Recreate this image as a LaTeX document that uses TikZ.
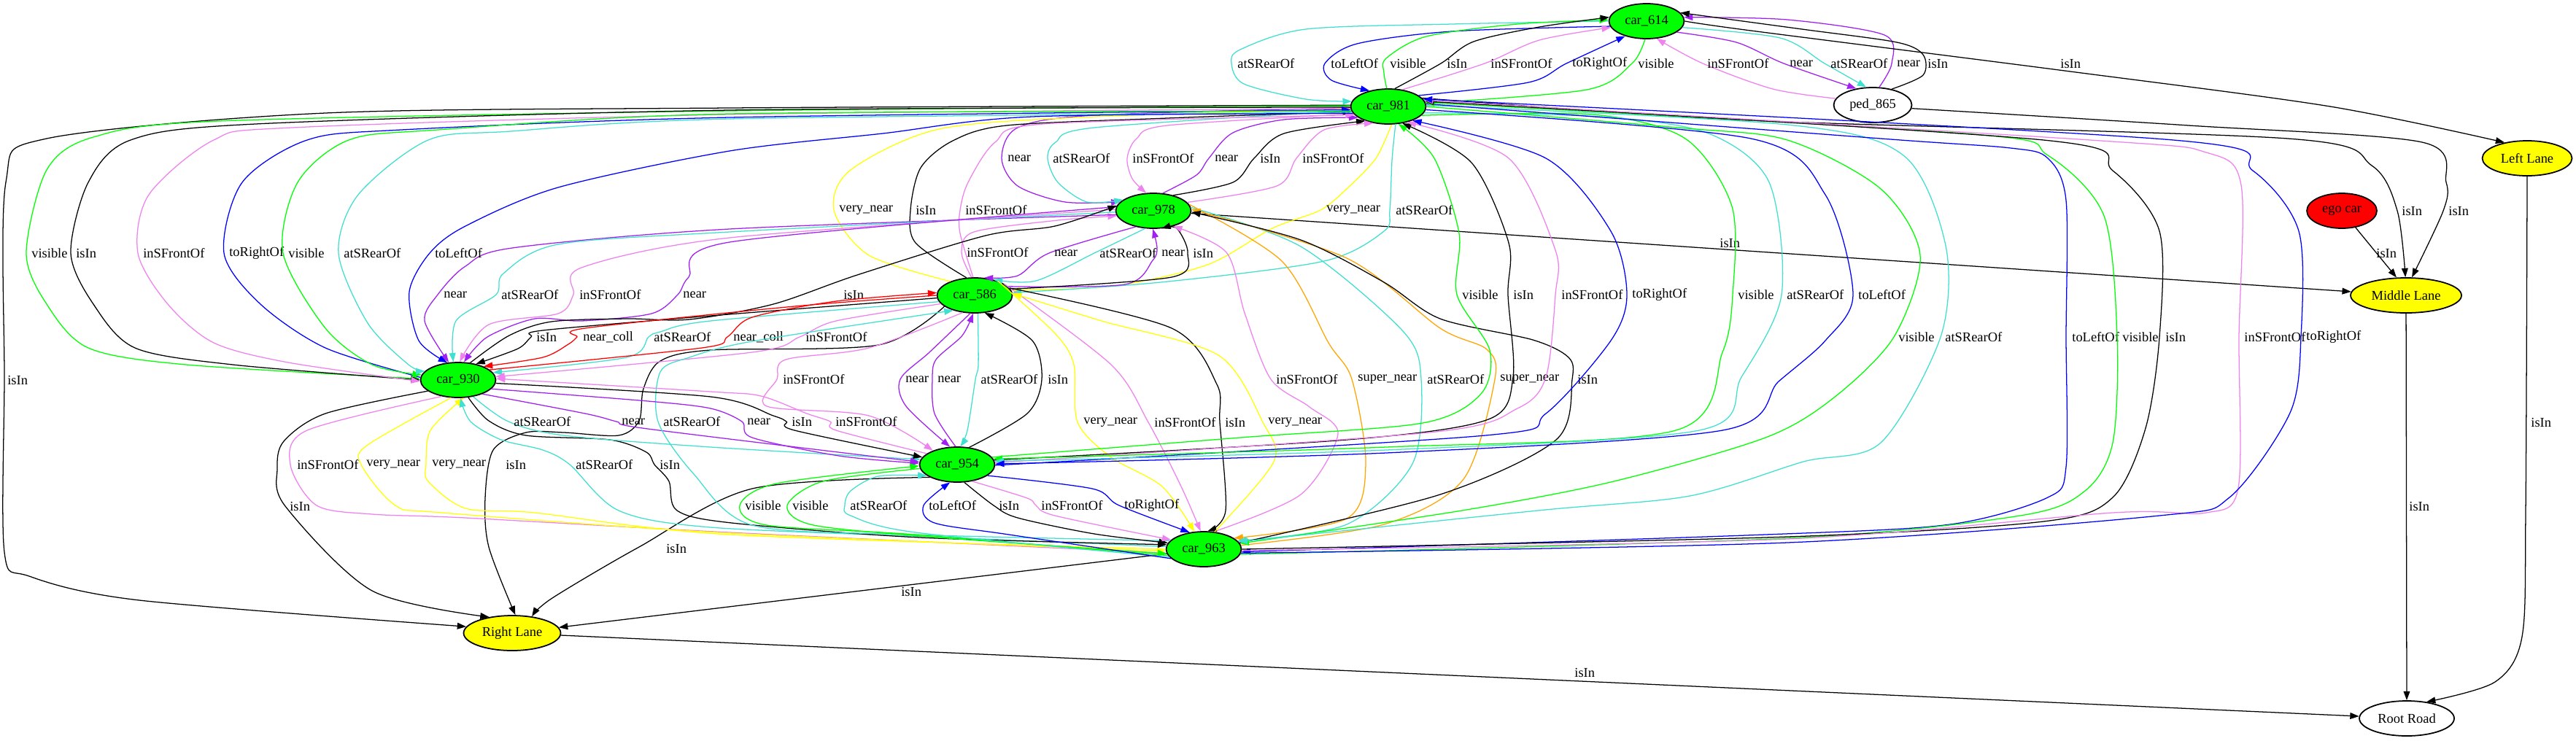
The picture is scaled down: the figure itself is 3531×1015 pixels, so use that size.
\documentclass[tikz,border=0pt]{standalone}
\usepackage{fontspec}
\setmainfont{Liberation Serif}
\usetikzlibrary{shapes.geometric,arrows.meta}
\definecolor{vgreen}{HTML}{00FF00}
\definecolor{vyellow}{HTML}{FFFF00}
\definecolor{vred}{HTML}{FF0000}
\definecolor{cturq}{HTML}{40E0D0}
\definecolor{cviolet}{HTML}{EE82EE}
\definecolor{cpurple}{HTML}{A020F0}
\definecolor{cblue}{HTML}{0000FF}
\definecolor{cgreen}{HTML}{00FF00}
\definecolor{cyellow}{HTML}{FFFF00}
\definecolor{corange}{HTML}{FFA500}
\definecolor{cred}{HTML}{FF0000}

\tikzset{
  obj/.style={ellipse, draw=black, line width=1pt, fill=vgreen, inner sep=0pt,
    minimum width=2.06cm, minimum height=0.96cm, font=\fontsize{10.5}{12}\selectfont},
  lane/.style={obj, fill=vyellow},
  rel/.style={-{Triangle[length=7pt,width=5pt]}, line width=0.72pt, smooth, tension=0.5},
  lbl/.style={anchor=west, inner sep=0pt, font=\fontsize{10.5}{12}\selectfont},
}

\begin{document}
\begin{tikzpicture}[x=0.02cm, y=-0.02cm]
 \fill[white] (0,0) rectangle (3531,1015);
 \useasboundingbox (0,0) rectangle (3531,1015);

 % objects
 \node[obj] (c614) at (2257,29) {car\_614};
 \node[obj] (c981) at (1903,146) {car\_981};
 \node[obj, fill=white, minimum width=2.14cm] (ped) at (2567,144) {ped\_865};
 \node[lane, minimum width=2.46cm] (lleft) at (3464,217) {Left Lane};
 \node[obj, fill=vred, minimum width=1.92cm] (ego) at (3210,289) {ego car};
 \node[lane, minimum width=3.04cm] (lmid) at (3298,405) {Middle Lane};
 \node[obj] (c978) at (1581,289) {car\_978};
 \node[obj] (c586) at (1336,405) {car\_586};
 \node[obj] (c930) at (628,521) {car\_930};
 \node[obj] (c954) at (1312,637) {car\_954};
 \node[obj] (c963) at (1650,753) {car\_963};
 \node[lane, minimum width=2.66cm] (lright) at (702,868) {Right Lane};
 \node[obj, fill=white, minimum width=2.6cm] (road) at (3299,985) {Root Road};

 % car_614 <-> car_981
 \draw[rel, cturq] plot coordinates {(c614.180) (1990,33) (1790,40) (1700,68) (1688,87) (1705,115) (1790,136) (c981.172)};
 \node[lbl] (t01) at (1696,87) {atSRearOf};
 \draw[rel, cblue] plot coordinates {(c614.188) (1990,43) (1860,60) (1816,87) (1825,110) (c981.140)};
 \node[lbl] (t02) at (1824,87) {toLeftOf};
 \draw[rel, cgreen] plot coordinates {(c981.95) (1897,100) (1900,80) (1955,50) (2080,33) (c614.178)};
 \node[lbl] (t03) at (1905,87) {visible};
 \draw[rel] plot coordinates {(c981.70) (1975,87) (2020,57) (2110,37) (c614.174)};
 \node[lbl] (t04) at (1983,87) {isIn};
 \draw[rel, cviolet] plot coordinates {(c981.50) (2035,87) (2110,55) (c614.190)};
 \node[lbl] (t05) at (2043,87) {inSFrontOf};
 \draw[rel, cblue] plot coordinates {(c981.20) (2095,113) (2147,87) (c614.215)};
 \node[lbl] (t06) at (2155,87) {toRightOf};
 \draw[rel, cgreen] plot coordinates {(c614.265) (2237,87) (2175,123) (c981.5)};
 \node[lbl] (t07) at (2245,87) {visible};

 % ped_865 <-> car_614
 \draw[rel, cviolet] plot coordinates {(ped.170) (2430,122) (2334,87) (c614.300)};
 \node[lbl] (t08) at (2340,87) {inSFrontOf};
 \draw[rel, cpurple] plot coordinates {(c614.340) (2380,58) (2445,87) (ped.135)};
 \node[lbl] (t09) at (2453,87) {near};
 \draw[rel, cturq] plot coordinates {(c614.350) (2440,52) (2501,87) (ped.110)};
 \node[lbl] (t10) at (2509,87) {atSRearOf};
 \draw[rel, cpurple] plot coordinates {(ped.70) (2593,87) (2583,48) (2450,27) (c614.6)};
 \node[lbl] (t11) at (2600,87) {near};
 \draw[rel] plot coordinates {(ped.40) (2636,103) (2636,75) (2600,58) (2470,40) (c614.14)};
 \node[lbl] (t12) at (2642,87) {isIn};

 % lanes and road
 \draw[rel] plot coordinates {(c614.0) (2400,42) (2830,97) (3194,146) (lleft.145)};
 \node[lbl] (t13) at (2824,87) {isIn};
 \draw[rel] plot coordinates {(ped.355) (3000,172) (3320,195) (3353,250) (3349,289) (lmid.72)};
 \node[lbl] (t14) at (3356,289) {isIn};
 \draw[rel] plot coordinates {(c981.14) (2400,165) (3136,190) (3251,227) (3286,289) (lmid.92)};
 \node[lbl] (t15) at (3292,289) {isIn};
 \draw[rel] (ego) -- (lmid.118);
 \node[lbl] (t16) at (3257,347) {isIn};
 \draw[rel] (c978) -- (lmid);
 \node[lbl] (t17) at (2357,333) {isIn};
 \draw[rel] (lmid) -- (road);
 \node[lbl] (t18) at (3302,694) {isIn};
 \draw[rel] plot coordinates {(lleft.270) (3462,700) (3457,873) (3420,935) (road.40)};
 \node[lbl] (t19) at (3469,579) {isIn};
 \draw[rel] (lright) -- (road);
 \node[lbl] (t20) at (2158,922) {isIn};
 \draw[rel] plot coordinates {(c981.178) (1000,148) (446,155) (64,190) (8,250) (6,521) (6,757) (40,790) (191,823) (lright.172)};
 \node[lbl] (t21) at (10,521) {isIn};
 \draw[rel] plot coordinates {(c930.200) (446,567) (389,605) (380,643) (391,694) (510,810) (lright.145)};
 \node[lbl] (t22) at (397,694) {isIn};
 \draw[rel] plot coordinates {(c586.200) (1204,473) (974,480) (905,495) (882,533) (876,577) (848,597) (773,593) (721,593) (676,617) (665,683) (670,750) (lright.80)};
 \node[lbl] (t23) at (693,637) {isIn};
 \draw[rel] plot coordinates {(c954.205) (1031,670) (876,750) (757,820) (lright.40)};
 \node[lbl] (t24) at (913,752) {isIn};
 \draw[rel] (c963) -- (lright);
 \node[lbl] (t25) at (1235,811) {isIn};

 % car_981 <-> car_978
 \draw[rel, cpurple] plot coordinates {(c981.182) (1500,158) (1395,175) (1373,217) (1395,255) (1460,277) (c978.165)};
 \node[lbl] (t26) at (1381,217) {near};
 \draw[rel, cturq] plot coordinates {(c981.186) (1500,175) (1447,195) (1436,217) (1450,250) (1490,277) (c978.160)};
 \node[lbl] (t27) at (1443,217) {atSRearOf};
 \draw[rel, cviolet] plot coordinates {(c981.192) (1600,172) (1558,190) (1545,217) (1552,245) (c978.112)};
 \node[lbl] (t28) at (1552,217) {inSFrontOf};
 \draw[rel, cpurple] plot coordinates {(c978.62) (1640,240) (1657,217) (1690,182) (1760,164) (c981.200)};
 \node[lbl] (t29) at (1665,217) {near};
 \draw[rel] plot coordinates {(c978.38) (1690,250) (1719,217) (1760,183) (c981.212)};
 \node[lbl] (t30) at (1727,217) {isIn};
 \draw[rel, cviolet] plot coordinates {(c978.14) (1750,255) (1777,217) (1815,178) (c981.228)};
 \node[lbl] (t31) at (1785,217) {inSFrontOf};

 % car_586 <-> car_981
 \draw[rel, cyellow] plot coordinates {(c586.150) (1191,350) (1143,288) (1166,233) (1287,177) (1500,160) (c981.184)};
 \node[lbl] (t32) at (1150,288) {very\_near};
 \draw[rel] plot coordinates {(c586.115) (1255,333) (1248,288) (1262,230) (1306,193) (1380,172) (1600,162) (c981.188)};
 \node[lbl] (t33) at (1255,288) {isIn};
 \draw[rel, cviolet] plot coordinates {(c586.95) (1316,320) (1316,288) (1327,250) (1364,195) (1430,170) (c981.194)};
 \node[lbl] (t34) at (1323,288) {inSFrontOf};
 \draw[rel, cyellow] plot coordinates {(c981.280) (1886,217) (1848,257) (1810,288) (1744,313) (1655,363) (1527,392) (c586.8)};
 \node[lbl] (t35) at (1818,288) {very\_near};
 \draw[rel, cturq] plot coordinates {(c981.292) (1908,220) (1905,288) (1897,317) (1815,358) (1591,387) (c586.4)};
 \node[lbl] (t36) at (1913,288) {atSRearOf};

 % car_978 <-> car_586
 \draw[rel, cviolet] plot coordinates {(c586.100) (1318,346) (1335,318) (1450,302) (c978.188)};
 \node[lbl] (t37) at (1325,346) {inSFrontOf};
 \draw[rel, cpurple] plot coordinates {(c978.222) (1438,347) (1395,378) (c586.62)};
 \node[lbl] (t38) at (1445,347) {near};
 \draw[rel, cturq] plot coordinates {(c978.245) (1500,347) (1420,385) (c586.40)};
 \node[lbl] (t39) at (1507,347) {atSRearOf};
 \draw[rel, cpurple] plot coordinates {(c586.15) (1542,390) (1580,357) (1586,340) (c978.268)};
 \node[lbl] (t40) at (1592,347) {near};
 \draw[rel] plot coordinates {(c586.10) (1606,380) (1628,347) (1613,313) (c978.295)};
 \node[lbl] (t41) at (1635,347) {isIn};

 % car_978 <-> car_930
 \draw[rel, cpurple] plot coordinates {(c978.186) (1000,314) (702,340) (638,365) (600,404) (582,440) (c930.118)};
 \node[lbl] (t42) at (608,404) {near};
 \draw[rel, cturq] plot coordinates {(c978.182) (1000,318) (765,335) (690,375) (680,404) (625,440) (c930.105)};
 \node[lbl] (t43) at (687,404) {atSRearOf};
 \draw[rel, cviolet] plot coordinates {(c978.178) (1000,326) (797,367) (786,404) (765,430) (670,445) (c930.85)};
 \node[lbl] (t44) at (794,404) {inSFrontOf};
 \draw[rel, cpurple] plot coordinates {(c978.174) (1000,332) (944,380) (929,404) (893,430) (797,440) (733,437) (668,462) (c930.72)};
 \node[lbl] (t45) at (936,404) {near};
 \draw[rel] plot coordinates {(c930.55) (698,460) (756,441) (859,437) (945,438) (1060,417) (1175,377) (1351,323) (1446,310) (c978.172)};
 \node[lbl] (t46) at (1156,404) {isIn};

 % car_586 <-> car_930
 \draw[rel] plot coordinates {(c586.184) (974,433) (744,453) (728,462) (710,478) (c930.42)};
 \node[lbl] (t47) at (735,462) {isIn};
 \draw[rel, cred] plot coordinates {(c586.180) (1089,420) (802,450) (791,462) (779,472) (744,490) (c930.28)};
 \node[lbl] (t48) at (799,462) {near\_coll};
 \draw[rel, cturq] plot coordinates {(c586.190) (974,440) (905,455) (889,462) (859,490) (c930.12)};
 \node[lbl] (t49) at (896,462) {atSRearOf};
 \draw[rel, cred] plot coordinates {(c930.18) (962,477) (997,462) (1031,435) (1146,413) (c586.176)};
 \node[lbl] (t50) at (1005,462) {near\_coll};
 \draw[rel, cviolet] plot coordinates {(c586.194) (1146,440) (1096,462) (1031,483) (c930.5)};
 \node[lbl] (t51) at (1104,462) {inSFrontOf};

 % car_586 <-> car_954
 \draw[rel, cviolet] plot coordinates {(c586.235) (1191,477) (1077,493) (1065,520) (1051,557) (1191,570) (c954.150)};
 \node[lbl] (t52) at (1073,520) {inSFrontOf};
 \draw[rel, cpurple] plot coordinates {(c586.256) (1274,483) (1234,520) (1242,557) (c954.112)};
 \node[lbl] (t53) at (1241,520) {near};
 \draw[rel, cpurple] plot coordinates {(c954.95) (1281,567) (1278,520) (1283,493) (1319,460) (c586.265)};
 \node[lbl] (t54) at (1285,520) {near};
 \draw[rel, cturq] plot coordinates {(c586.280) (1341,500) (1337,520) (1326,590) (c954.80)};
 \node[lbl] (t55) at (1344,520) {atSRearOf};
 \draw[rel] plot coordinates {(c954.55) (1408,567) (1428,520) (1415,467) (c586.300)};
 \node[lbl] (t56) at (1436,520) {isIn};

 % car_978 <-> car_963
 \draw[rel, cviolet] plot coordinates {(c963.60) (1783,678) (1834,595) (1795,558) (1742,520) (1706,429) (1681,346) (c978.322)};
 \node[lbl] (t57) at (1749,520) {inSFrontOf};
 \draw[rel, corange] plot coordinates {(c978.10) (1757,358) (1821,470) (1853,520) (1872,636) (1846,711) (c963.20)};
 \node[lbl] (t58) at (1861,520) {super\_near};
 \draw[rel, cturq] plot coordinates {(c978.5) (1783,338) (1923,454) (1948,520) (1936,636) (1846,719) (c963.14)};
 \node[lbl] (t59) at (1956,520) {atSRearOf};
 \draw[rel, corange] plot coordinates {(c963.6) (1897,719) (2006,657) (2049,520) (2038,479) (1974,450) (1846,354) (c978.2)};
 \node[lbl] (t60) at (2056,520) {super\_near};
 \draw[rel] plot coordinates {(c963.10) (1974,678) (2133,603) (2155,520) (2150,490) (2101,466) (1974,437) (1897,387) (1783,329) (c978.358)};
 \node[lbl] (t61) at (2162,520) {isIn};

 % car_586 <-> car_963
 \draw[rel, cyellow] plot coordinates {(c586.32) (1446,457) (1472,500) (1477,579) (1523,627) (1593,667) (c963.118)};
 \node[lbl] (t62) at (1485,579) {very\_near};
 \draw[rel, cviolet] plot coordinates {(c586.22) (1523,500) (1574,579) (1619,667) (c963.100)};
 \node[lbl] (t63) at (1582,579) {inSFrontOf};
 \draw[rel] plot coordinates {(c586.12) (1606,450) (1668,527) (1672,579) (1680,700) (c963.78)};
 \node[lbl] (t64) at (1679,579) {isIn};
 \draw[rel, cyellow] plot coordinates {(c963.58) (1746,633) (1731,579) (1670,487) (1510,440) (c586.3)};
 \node[lbl] (t65) at (1738,579) {very\_near};

 % car_930 <-> car_963
 \draw[rel, cviolet] plot coordinates {(c930.225) (421,590) (398,637) (434,693) (510,705) (638,710) (1000,730) (c963.186)};
 \node[lbl] (t66) at (407,637) {inSFrontOf};
 \draw[rel, cyellow] plot coordinates {(c930.248) (504,610) (495,637) (542,693) (606,703) (1000,731) (c963.183)};
 \node[lbl] (t67) at (502,637) {very\_near};
 \draw[rel, cyellow] plot coordinates {(c963.180) (1000,733) (733,703) (638,697) (587,660) (584,637) (590,590) (c930.287)};
 \node[lbl] (t68) at (592,637) {very\_near};
 \draw[rel, cturq] plot coordinates {(c963.176) (1300,737) (974,723) (848,700) (781,637) (744,617) (687,603) (645,578) (c930.277)};
 \node[lbl] (t69) at (789,637) {atSRearOf};
 \draw[rel] plot coordinates {(c930.300) (670,577) (721,597) (836,603) (886,620) (897,637) (917,660) (928,700) (1003,717) (1261,737) (c963.173)};
 \node[lbl] (t70) at (904,637) {isIn};

 % car_930 <-> car_954
 \draw[rel, cturq] plot coordinates {(c930.312) (697,578) (773,597) (974,613) (c954.172)};
 \node[lbl] (t71) at (704,578) {atSRearOf};
 \draw[rel, cpurple] plot coordinates {(c930.330) (802,567) (845,578) (888,588) (c954.176)};
 \node[lbl] (t72) at (852,578) {near};
 \draw[rel, cturq] plot coordinates {(c963.166) (1250,733) (1031,720) (951,650) (902,578) (905,510) (945,490) (1031,468) (c586.215)};
 \node[lbl] (t73) at (909,578) {atSRearOf};
 \draw[rel, cpurple] plot coordinates {(c930.345) (888,550) (974,560) (1017,578) (1031,600) (1150,625) (c954.178)};
 \node[lbl] (t74) at (1024,578) {near};
 \draw[rel] plot coordinates {(c930.355) (974,544) (1060,570) (1078,578) (1089,590) (c954.168)};
 \node[lbl] (t75) at (1085,578) {isIn};
 \draw[rel, cviolet] plot coordinates {(c954.160) (1146,590) (1138,578) (1106,567) (1043,543) (974,537) (c930.2)};
 \node[lbl] (t76) at (1145,578) {inSFrontOf};

 % car_954 <-> car_963
 \draw[rel, cgreen] plot coordinates {(c963.190) (1255,733) (1051,720) (1014,693) (1064,663) (c954.182)};
 \node[lbl] (t77) at (1021,693) {visible};
 \draw[rel, cgreen] plot coordinates {(c954.186) (1128,660) (1079,693) (1115,720) (1287,737) (c963.187)};
 \node[lbl] (t78) at (1086,693) {visible};
 \draw[rel, cturq] plot coordinates {(c963.193) (1255,730) (1166,707) (1158,693) (1166,673) (1204,653) (c954.200)};
 \node[lbl] (t79) at (1165,693) {atSRearOf};
 \draw[rel, cblue] plot coordinates {(c963.196) (1383,733) (1281,717) (1266,693) (c954.248)};
 \node[lbl] (t80) at (1273,693) {toLeftOf};
 \draw[rel] plot coordinates {(c954.292) (1362,693) (1395,710) (1500,732) (c963.170)};
 \node[lbl] (t81) at (1369,693) {isIn};
 \draw[rel, cviolet] plot coordinates {(c954.312) (1408,683) (1420,693) (1446,707) (c963.164)};
 \node[lbl] (t82) at (1427,693) {inSFrontOf};
 \draw[rel, cblue] plot coordinates {(c954.340) (1497,670) (1534,693) (c963.130)};
 \node[lbl] (t83) at (1541,693) {toRightOf};

 % car_954 <-> car_981
 \draw[rel, cgreen] plot coordinates {(c954.12) (1700,600) (1950,580) (2030,540) (2042,480) (1997,404) (2000,320) (1966,217) (c981.300)};
 \node[lbl] (t84) at (2004,404) {visible};
 \draw[rel] plot coordinates {(c954.7) (1846,603) (2040,575) (2074,517) (2067,404) (2068,333) (2017,223) (c981.310)};
 \node[lbl] (t85) at (2074,404) {isIn};
 \draw[rel, cviolet] plot coordinates {(c954.3) (1959,593) (2080,560) (2119,517) (2132,404) (2132,343) (2068,217) (c981.320)};
 \node[lbl] (t86) at (2140,404) {inSFrontOf};
 \draw[rel, cblue] plot coordinates {(c954.359) (2036,597) (2119,567) (2208,467) (2230,404) (2208,317) (2119,217) (c981.330)};
 \node[lbl] (t87) at (2237,404) {toRightOf};
 \draw[rel, cgreen] plot coordinates {(c981.345) (2183,157) (2310,190) (2374,283) (2375,404) (2361,483) (2297,590) (1900,613) (c954.9)};
 \node[lbl] (t88) at (2382,404) {visible};
 \draw[rel, cturq] plot coordinates {(c981.350) (2195,160) (2342,183) (2425,250) (2442,404) (2387,517) (2329,590) (1900,617) (c954.5)};
 \node[lbl] (t89) at (2449,404) {atSRearOf};
 \draw[rel, cblue] plot coordinates {(c981.355) (2400,190) (2502,267) (2540,404) (2502,467) (2438,523) (2361,590) (1900,621) (c954.1)};
 \node[lbl] (t90) at (2547,404) {toLeftOf};

 % car_981 <-> car_963
 \draw[rel, cgreen] plot coordinates {(c981.0) (2300,175) (2450,192) (2578,259) (2632,350) (2596,462) (2514,545) (2420,600) (2212,660) (2004,700) (c963.9)};
 \node[lbl] (t91) at (2602,462) {visible};
 \draw[rel, cturq] plot coordinates {(c981.2) (2450,171) (2609,213) (2667,337) (2660,462) (2578,607) (2472,633) (2316,680) (2108,700) (c963.12)};
 \node[lbl] (t92) at (2666,462) {atSRearOf};
 \draw[rel, cblue] plot coordinates {(c981.4) (2578,190) (2756,203) (2807,217) (2832,275) (2832,462) (2832,640) (2807,682) (2673,719) (2420,733) (c963.356)};
 \node[lbl] (t93) at (2840,462) {toLeftOf};
 \draw[rel, cgreen] plot coordinates {(c963.352) (2450,738) (2769,707) (2858,673) (2896,607) (2902,462) (2884,296) (2807,213) (2705,184) (c981.6)};
 \node[lbl] (t94) at (2909,462) {visible};
 \draw[rel] plot coordinates {(c963.0) (2450,736) (2801,715) (2896,682) (2941,587) (2960,462) (2960,317) (2896,234) (2801,192) (c981.8)};
 \node[lbl] (t95) at (2968,462) {isIn};
 \draw[rel, cviolet] plot coordinates {(c963.358) (2450,739) (2896,703) (3024,703) (3068,669) (3069,462) (3072,254) (3024,209) (2865,192) (c981.10)};
 \node[lbl] (t96) at (3076,462) {inSFrontOf};
 \draw[rel, cblue] plot coordinates {(c963.354) (2450,744) (2960,707) (3056,682) (3139,566) (3154,462) (3151,317) (3088,234) (2979,192) (c981.12)};
 \node[lbl] (t97) at (3161,462) {toRightOf};

 % car_981 <-> car_930, round the left side
 \draw[rel, cgreen] plot coordinates {(c981.179) (1000,152) (300,166) (128,188) (64,233) (36,347) (64,417) (121,477) (255,500) (c930.178)};
 \node[lbl] (t98) at (43,347) {visible};
 \draw[rel] plot coordinates {(c981.181) (1000,151) (350,170) (179,192) (121,250) (97,347) (128,417) (185,477) (319,500) (c930.180)};
 \node[lbl] (t99) at (104,347) {isIn};
 \draw[rel, cviolet] plot coordinates {(c981.183) (1000,157) (400,175) (293,192) (204,267) (189,347) (230,417) (293,470) (395,497) (c930.182)};
 \node[lbl] (t100) at (196,347) {inSFrontOf};
 \draw[rel, cblue] plot coordinates {(c930.176) (446,477) (357,417) (307,347) (332,250) (421,192) (550,178) (1000,161) (c981.185)};
 \node[lbl] (t101) at (314,347) {toRightOf};
 \draw[rel, cgreen] plot coordinates {(c981.187) (1000,156) (600,178) (478,192) (408,250) (388,347) (446,450) (510,500) (c930.172)};
 \node[lbl] (t102) at (395,347) {visible};
 \draw[rel, cturq] plot coordinates {(c981.189) (1000,163) (700,180) (587,192) (491,267) (464,347) (504,443) (560,500) (c930.165)};
 \node[lbl] (t103) at (471,347) {atSRearOf};
 \draw[rel, cblue] plot coordinates {(c981.191) (1415,160) (1210,183) (1000,207) (765,257) (638,310) (589,347) (561,400) (574,467) (c930.122)};
 \node[lbl] (t104) at (596,347) {toLeftOf};
\end{tikzpicture}
\end{document}
